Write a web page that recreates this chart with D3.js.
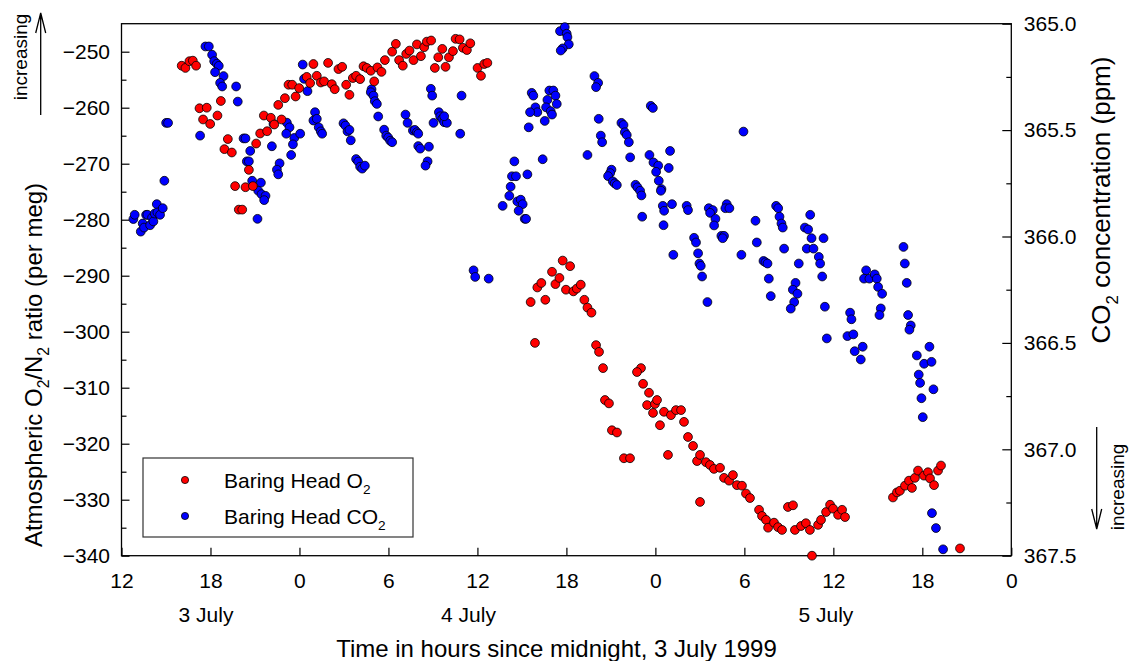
<!DOCTYPE html>
<html lang="en">
<head>
<meta charset="utf-8">
<title>Baring Head O2/N2 and CO2, July 1999</title>
<script src="https://cdn.jsdelivr.net/npm/d3@7"></script>
<style>
body { margin: 0; background: #fff; }
svg text { font-family: "Liberation Sans", Arial, sans-serif; fill: #000; }
</style>
</head>
<body>
<script>
// hours counted from midnight 2 July (axis shows hour of day)
var o2Points = [
  [16.06,-252.5],[16.31,-252.9],[16.58,-251.7],[16.81,-251.6],[17.03,-252.5],[17.26,-260.1],[17.75,-260.0],[17.50,-262.1],
  [17.98,-262.9],[18.47,-261.4],[18.70,-258.8],[19.17,-265.6],[18.94,-267.4],[19.44,-268.0],[19.66,-274.0],[19.91,-278.2],
  [20.14,-278.2],[20.36,-274.2],[20.86,-274.0],[20.59,-271.1],[21.08,-266.4],[21.35,-264.6],[21.82,-264.2],[21.60,-261.4],
  [22.07,-261.8],[22.30,-263.0],[22.79,-262.1],[22.57,-259.5],[23.02,-258.3],[23.74,-258.0],[23.26,-255.9],[23.51,-255.9],
  [23.98,-256.5],[24.49,-254.5],[24.72,-255.6],[24.94,-252.2],[25.17,-254.3],[25.44,-255.5],[25.66,-255.3],[25.93,-252.0],
  [26.18,-255.8],[26.38,-256.7],[26.63,-253.1],[26.88,-252.7],[27.15,-255.9],[27.37,-257.7],[27.60,-254.7],[27.82,-254.3],
  [28.09,-254.9],[28.32,-252.6],[28.54,-252.9],[28.81,-253.4],[29.26,-252.8],[29.53,-253.6],[29.04,-255.3],[29.76,-251.5],
  [30.25,-250.0],[30.50,-248.6],[30.72,-251.5],[30.97,-252.5],[31.20,-250.4],[31.42,-249.8],[31.69,-251.5],[31.92,-248.7],
  [32.19,-250.8],[32.41,-249.2],[32.59,-248.2],[32.88,-248.0],[33.13,-252.9],[33.36,-251.0],[33.63,-249.5],[33.85,-252.7],
  [34.08,-251.0],[34.35,-249.9],[34.53,-247.7],[34.80,-247.8],[35.02,-249.3],[35.29,-249.7],[35.52,-248.5],[36.01,-252.9],
  [36.24,-254.3],[36.46,-252.2],[36.67,-252.0],
  [39.59,-294.7],[39.88,-302.0],[40.04,-292.1],[40.31,-291.3],[40.58,-294.3],[41.03,-289.3],[41.26,-291.5],[41.53,-290.4],
  [41.75,-287.3],[42.25,-288.3],[41.97,-292.5],[42.47,-292.8],[42.70,-292.3],[42.97,-291.6],[43.21,-294.3],[43.42,-295.7],
  [43.69,-296.6],[44.00,-302.4],[44.20,-303.6],[44.47,-306.5],[44.60,-312.2],[44.87,-312.8],[45.07,-317.6],[45.41,-318.0],
  [45.88,-322.6],[46.29,-322.6],[47.03,-306.5],[46.76,-307.2],[47.17,-309.3],[47.57,-310.9],[47.44,-313.1],[47.84,-314.5],
  [47.97,-312.9],[48.11,-312.2],[48.31,-316.7],[48.58,-314.3],[48.85,-322.0],[49.05,-314.9],[49.39,-314.0],[49.73,-314.0],
  [49.93,-316.1],[50.20,-318.8],[50.54,-320.4],[50.81,-323.1],[51.01,-322.0],[51.01,-330.4],[51.41,-323.3],[51.68,-323.8],
  [51.95,-324.5],[52.36,-324.3],[52.63,-326.1],[52.97,-326.6],[53.23,-325.6],[53.50,-327.4],[53.84,-327.5],[54.11,-328.9],
  [54.38,-329.7],[54.99,-331.8],[55.19,-332.9],[55.46,-333.6],[55.60,-335.0],[56.00,-334.1],[56.27,-334.9],[56.54,-335.4],
  [56.94,-331.3],[57.28,-331.0],[57.41,-335.4],[57.82,-334.7],[58.15,-334.2],[58.42,-335.4],[58.56,-340.0],[58.97,-334.5],
  [59.17,-333.6],[59.51,-332.2],[59.78,-330.9],[59.98,-331.6],[60.32,-332.7],[60.59,-331.8],[60.79,-333.1],
  [64.02,-329.6],[64.29,-328.7],[64.49,-328.4],[64.83,-327.5],[65.10,-326.6],[65.30,-327.9],[65.50,-326.1],[65.71,-324.8],
  [66.11,-325.7],[66.38,-325.1],[66.52,-326.2],[66.79,-327.4],[67.06,-324.8],[67.26,-323.9],[68.54,-338.7]
];

var co2Points = [
  [12.80,365.918],[12.89,365.898],[13.30,365.977],[13.43,365.939],[13.52,365.958],[13.66,365.898],[13.75,365.898],[13.93,365.947],
  [14.06,365.911],[14.15,365.929],[14.24,365.892],[14.38,365.848],[14.42,365.887],[14.60,365.898],[14.78,365.867],[14.89,365.738],
  [15.01,365.466],[15.14,365.466],[17.30,365.526],[17.66,365.107],[17.89,365.107],[18.11,365.146],[18.25,365.176],[18.43,365.188],
  [18.56,365.198],[18.31,365.228],[18.88,365.246],[18.65,365.278],[18.79,365.295],[19.73,365.295],[19.84,365.366],[20.23,365.539],
  [20.36,365.539],[20.68,365.598],[20.45,365.647],[20.59,365.647],[20.81,365.738],[21.40,365.747],[21.22,365.785],[21.44,365.801],
  [21.71,365.809],[21.62,365.829],[21.17,365.917],[22.14,365.576],[22.66,365.656],[22.48,365.686],[22.57,365.708],[22.25,365.471],
  [23.15,365.465],[23.33,365.487],[23.11,365.517],[23.65,365.537],[23.56,365.567],[23.44,365.617],[24.05,365.517],
  [24.22,365.192],[24.31,365.259],[24.54,365.317],[25.05,365.416],[24.94,365.455],[25.17,365.447],[25.30,365.487],[25.44,365.506],
  [25.53,365.517],[26.97,365.468],[27.10,365.479],[27.24,365.506],[27.37,365.499],[27.46,365.548],[27.82,365.636],[27.96,365.648],
  [28.09,365.672],[28.23,365.681],[28.41,365.667],[28.86,365.308],[28.81,365.322],[28.99,365.338],[29.08,365.364],[29.22,365.377],
  [29.31,365.436],[29.71,365.498],[29.85,365.526],[29.98,365.535],[30.12,365.550],[30.25,365.557],[31.15,365.427],[31.29,365.466],
  [31.65,365.502],[31.78,365.499],[31.92,365.510],[32.01,365.517],[32.01,365.575],[32.14,365.587],[32.73,365.578],[32.64,365.647],
  [32.50,365.667],[32.86,365.306],[32.95,365.338],[33.40,365.416],[33.49,365.435],[33.63,365.447],[33.76,365.463],[33.94,365.466],
  [33.76,365.435],[33.04,365.466],[34.93,365.338],[34.84,365.517],[35.74,366.159],[35.85,366.190],
  [41.57,365.035],[41.89,365.016],[42.02,365.047],[42.07,365.063],[42.16,365.097],[41.75,365.116],[41.62,365.126],[43.89,365.246],
  [44.14,365.278],[44.00,365.298],[39.66,365.325],[39.77,365.338],[40.85,365.314],[41.12,365.314],[41.26,365.338],[40.72,365.358],
  [41.35,365.377],[39.91,365.393],[40.04,365.416],[39.55,365.416],[40.63,365.393],[40.94,365.411],[41.03,365.427],[40.54,365.457],
  [39.46,365.487],[47.69,365.386],[47.83,365.396],[44.18,365.447],[44.32,365.526],[44.41,365.557],[43.42,365.617],[45.71,365.466],
  [45.85,365.476],[45.94,365.510],[46.07,365.523],[46.21,365.557],[46.30,365.628],[47.60,365.617],[47.87,365.652],[48.19,365.667],
  [48.05,365.696],[48.23,365.738],[48.41,365.777],[48.37,365.785],[48.50,365.856],[48.59,365.879],[48.55,365.947],[47.11,365.907],
  [45.04,365.686],[44.95,365.702],[44.81,365.716],[45.13,365.741],[45.26,365.750],[45.40,365.758],[46.66,365.757],[46.79,365.769],
  [46.97,365.785],[47.06,365.807],[38.49,365.647],[40.40,365.637],[39.37,365.708],[38.33,365.717],[38.60,365.717],[38.24,365.766],
  [38.15,365.809],[38.69,365.835],[38.92,365.827],[39.05,365.848],[38.78,365.879],[39.19,365.917],[39.28,365.917],[37.70,365.856],
  [36.76,366.198],
  [48.99,365.598],[48.90,365.678],[49.12,365.848],[49.21,366.086],[50.11,365.856],[50.20,365.876],[51.60,365.867],[51.87,365.876],
  [51.69,365.889],[52.05,365.917],[51.96,365.948],[52.81,365.848],[52.72,365.867],[52.99,365.867],[52.45,365.997],[52.63,365.997],
  [52.54,366.008],[50.61,366.006],[50.74,366.028],[50.88,366.079],[50.97,366.127],[51.06,366.138],[51.15,366.188],[51.51,366.308],
  [53.80,366.086],[53.94,365.507],[54.75,365.926],[54.84,366.028],[56.14,365.856],[56.28,365.867],[56.37,365.907],[56.50,365.939],
  [56.59,365.958],[56.68,366.057],[55.29,366.115],[55.42,366.121],[55.56,366.127],[55.65,366.198],[55.78,366.280],[58.44,365.898],
  [58.08,365.958],[58.30,365.967],[58.53,366.008],[58.21,366.057],[58.66,366.057],[59.34,366.008],[59.02,366.096],[59.11,366.127],
  [59.25,366.188],[57.67,366.127],[57.45,366.218],[57.27,366.250],[57.58,366.269],[57.36,366.308],[57.13,366.339],[59.43,366.330],
  [59.56,366.479],
  [60.95,366.468],[61.35,366.460],[61.44,366.539],[61.85,366.578],[61.98,366.518],[61.13,366.358],[61.22,366.389],[62.21,366.159],
  [62.07,366.198],[62.43,366.198],[62.79,366.178],[62.93,366.198],[63.02,366.237],[63.29,366.269],[63.20,366.338],[63.11,366.369],
  [64.73,366.049],[64.82,366.127],[64.95,366.218],[65.04,366.369],[65.22,366.418],[65.13,366.438],[65.63,366.559],[66.48,366.518],
  [66.12,366.598],[66.62,366.589],[65.76,366.649],[65.85,366.688],[66.75,366.718],[65.94,366.760],[66.03,366.849],
  [66.65,367.300],[66.92,367.370],[67.40,367.470]
];

var xTickHours = [12, 18, 24, 30, 36, 42, 48, 54, 60, 66, 72];
var o2Ticks = [-250, -260, -270, -280, -290, -300, -310, -320, -330, -340];
var o2MinorTicks = [-255, -265, -275, -285, -295, -305, -315, -325, -335];
var co2Ticks = [365.0, 365.5, 366.0, 366.5, 367.0, 367.5];
var co2MinorTicks = [365.25, 365.75, 366.25, 366.75, 367.25];
var dayNames = ["3 July", "4 July", "5 July"];
var dayHours = [17.7, 35.4, 59.5];
var seriesNames = ["Baring Head O", "Baring Head CO"];
var seriesColors = ["#ff0000", "#0000ff"];

var margin = {top: 23.7, right: 117.7, bottom: 105.3, left: 121.5},
    width = 1129 - margin.left - margin.right,
    height = 661 - margin.top - margin.bottom;

var x = d3.scaleLinear().domain([12, 72]).range([0, width]);
var yO2 = d3.scaleLinear().domain([-340, -245]).range([height, 0]);
var yCO2 = d3.scaleLinear().domain([365, 367.5]).range([0, height]);

var svg = d3.select("body").append("svg")
    .attr("width", 1129)
    .attr("height", 661);

var g = svg.append("g")
    .attr("transform", "translate(" + margin.left + "," + margin.top + ")");

function styleAxis(sel) {
  sel.attr("font-size", 21).attr("font-family", "Liberation Sans, Arial, sans-serif");
  sel.select(".domain").remove();
  sel.selectAll(".tick line").attr("stroke", "#000").attr("stroke-width", 1.2);
}

// x axis, ticks pointing in
g.append("g")
    .attr("transform", "translate(0," + height + ")")
    .call(d3.axisBottom(x).tickValues(xTickHours).tickSize(-8).tickPadding(17)
      .tickFormat(function(h) { return h % 24; }))
    .call(styleAxis);

// left axis
g.append("g")
    .call(d3.axisLeft(yO2).tickValues(o2Ticks).tickSize(-8).tickPadding(11.5))
    .call(styleAxis);
g.append("g")
    .call(d3.axisLeft(yO2).tickValues(o2MinorTicks).tickSize(-5).tickFormat(""))
    .call(styleAxis);

// right axis
g.append("g")
    .attr("transform", "translate(" + width + ",0)")
    .call(d3.axisRight(yCO2).tickValues(co2Ticks).tickSize(-9).tickPadding(12.5)
      .tickFormat(d3.format(".1f")))
    .call(styleAxis);
g.append("g")
    .attr("transform", "translate(" + width + ",0)")
    .call(d3.axisRight(yCO2).tickValues(co2MinorTicks).tickSize(-5).tickFormat(""))
    .call(styleAxis);

// frame
g.append("rect")
    .attr("width", width)
    .attr("height", height)
    .attr("fill", "none")
    .attr("stroke", "#000")
    .attr("stroke-width", 1.3);

// points: CO2 first, O2 on top
g.selectAll(".co2")
    .data(co2Points)
  .enter().append("circle")
    .attr("class", "co2")
    .attr("cx", function(d) { return x(d[0]); })
    .attr("cy", function(d) { return yCO2(d[1]); })
    .attr("r", 4.4)
    .attr("fill", seriesColors[1])
    .attr("stroke", "#000")
    .attr("stroke-width", 0.8);

g.selectAll(".o2")
    .data(o2Points)
  .enter().append("circle")
    .attr("class", "o2")
    .attr("cx", function(d) { return x(d[0]); })
    .attr("cy", function(d) { return yO2(d[1]); })
    .attr("r", 4.4)
    .attr("fill", seriesColors[0])
    .attr("stroke", "#000")
    .attr("stroke-width", 0.8);

// day labels
g.selectAll(".day")
    .data(dayNames)
  .enter().append("text")
    .attr("class", "day")
    .attr("x", function(d, i) { return x(dayHours[i]); })
    .attr("y", 622 - margin.top)
    .attr("text-anchor", "middle")
    .attr("font-size", 21)
    .text(function(d) { return d; });

// text with subscript 2s
function richText(sel, parts, size) {
  parts.forEach(function(p) {
    var t = sel.append("tspan").text(p[0]);
    if (p[1]) t.attr("font-size", size * 0.65).attr("dy", size * 0.3);
    else if (p[2]) t.attr("dy", -size * 0.3);
  });
}

svg.append("text")
    .attr("x", 556.5)
    .attr("y", 657)
    .attr("text-anchor", "middle")
    .attr("font-size", 24)
    .text("Time in hours since midnight, 3 July 1999");

var leftTitle = svg.append("text")
    .attr("transform", "translate(42,365) rotate(-90)")
    .attr("text-anchor", "middle")
    .attr("font-size", 24);
richText(leftTitle, [["Atmospheric O"], ["2", 1], ["/N", 0, 1], ["2", 1], [" ratio (per meg)", 0, 1]], 24);

var rightTitle = svg.append("text")
    .attr("transform", "translate(1110,200) rotate(-90)")
    .attr("text-anchor", "middle")
    .attr("font-size", 26);
richText(rightTitle, [["CO"], ["2", 1], [" concentration (ppm)", 0, 1]], 26);

// "increasing" arrows
function arrow(x0, y0, y1) {
  var dir = y1 < y0 ? 1 : -1;
  svg.append("path")
      .attr("d", "M" + x0 + "," + y0 + "V" + y1 +
        "M" + (x0 - 5) + "," + (y1 + dir * 20) + "L" + x0 + "," + y1 + "L" + (x0 + 5) + "," + (y1 + dir * 20))
      .attr("fill", "none")
      .attr("stroke", "#000")
      .attr("stroke-width", 1.3);
}
arrow(40.7, 115, 13);
arrow(1096.7, 427, 529);

svg.append("text")
    .attr("transform", "translate(27,57) rotate(-90)")
    .attr("text-anchor", "middle")
    .attr("font-size", 19)
    .text("increasing");
svg.append("text")
    .attr("transform", "translate(1124,487) rotate(-90)")
    .attr("text-anchor", "middle")
    .attr("font-size", 19)
    .text("increasing");

// legend
var legend = svg.append("g");
legend.append("rect")
    .attr("x", 143)
    .attr("y", 458)
    .attr("width", 270)
    .attr("height", 79)
    .attr("fill", "#fff")
    .attr("stroke", "#333")
    .attr("stroke-width", 1.2);

seriesNames.forEach(function(name, i) {
  var cy = 480 + i * 36;
  legend.append("circle")
      .attr("cx", 185)
      .attr("cy", cy)
      .attr("r", 3.6)
      .attr("fill", seriesColors[i])
      .attr("stroke", "#000")
      .attr("stroke-width", 0.8);
  var t = legend.append("text")
      .attr("x", 224)
      .attr("y", cy + 7.5)
      .attr("font-size", 21);
  richText(t, [[name], ["2", 1]], 21);
});
</script>
</body>
</html>
